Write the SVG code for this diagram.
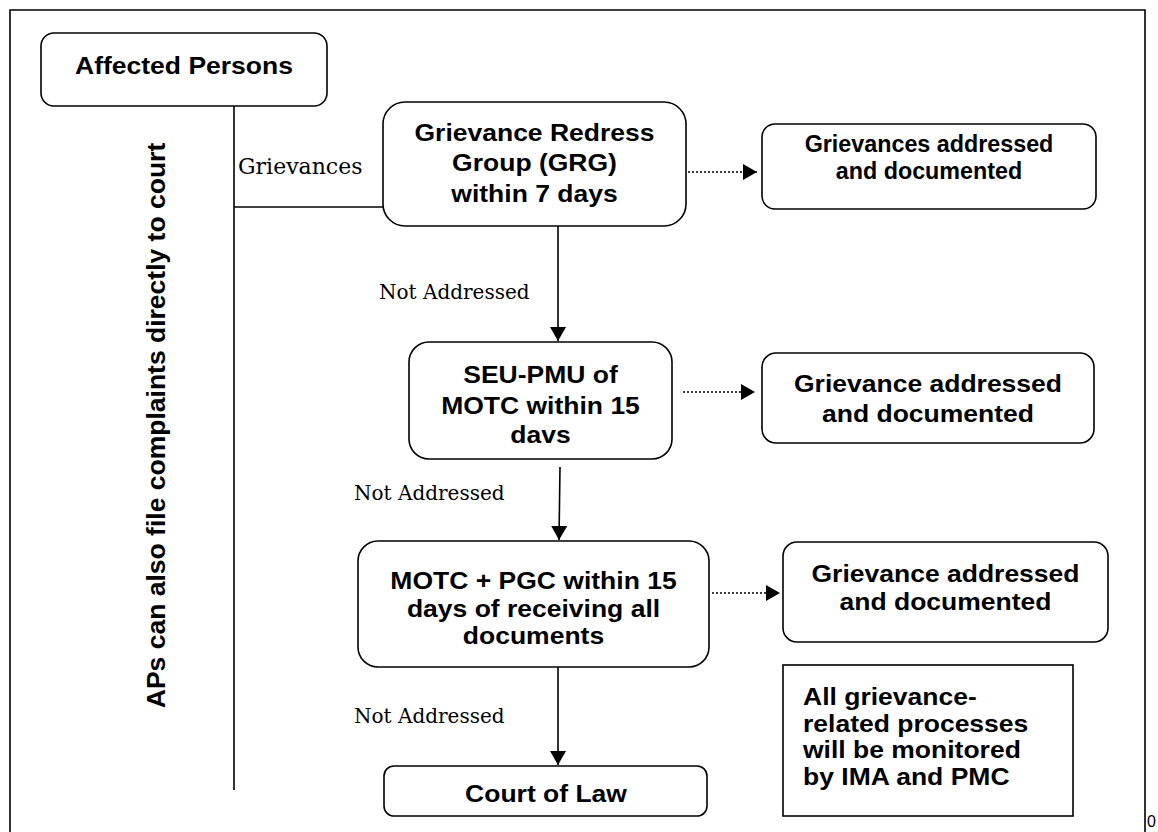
<svg xmlns="http://www.w3.org/2000/svg" width="1158" height="832" viewBox="0 0 1158 832">
<defs>
<style>
.box{fill:#fff;stroke:#000;stroke-width:1.6}
.t{font-family:"Liberation Sans",Arial,sans-serif;font-weight:bold;font-size:23.5px;fill:#000;text-anchor:middle}
.s{text-anchor:start}
.ts{font-size:23.3px}
.tr{font-size:26.5px}
.lbl{font-family:"DejaVu Serif","Liberation Serif",serif;font-size:20px;fill:#000}
.ln{fill:none;stroke:#000;stroke-width:1.6}
.dot{fill:none;stroke:#000;stroke-width:1.6;stroke-dasharray:2 2}
</style>
<marker id="ah" markerUnits="userSpaceOnUse" markerWidth="15" markerHeight="16" refX="14" refY="8" orient="auto" viewBox="0 0 15 16">
<path d="M0,0 L14,8 L0,16 z" fill="#000"/>
</marker>
</defs>
<rect width="1158" height="832" fill="#fff"/>
<path class="ln" d="M10,832 V10 H1145 V832"/>
<text x="1147" y="827" font-family="Liberation Sans,Arial,sans-serif" font-size="16">0</text>

<g id="connectors">
<path class="ln" d="M234,106 V790"/>
<path class="ln" d="M234,207 H383"/>
<path class="ln" d="M558,226 V341" marker-end="url(#ah)"/>
<path class="ln" d="M560,467 L559,540" marker-end="url(#ah)"/>
<path class="ln" d="M558,667 V765" marker-end="url(#ah)"/>
<path class="dot" d="M688,172 H757" marker-end="url(#ah)"/>
<path class="dot" d="M683,392 H755" marker-end="url(#ah)"/>
<path class="dot" d="M712,593 H780" marker-end="url(#ah)"/>
<text class="lbl" x="238" y="174" style="font-size:22px">Grievances</text>
<text class="lbl" x="379" y="299">Not Addressed</text>
<text class="lbl" x="354" y="500">Not Addressed</text>
<text class="lbl" x="354" y="723">Not Addressed</text>
</g>

<g id="side-note">
<text class="t tr" transform="translate(165,425.5) rotate(-90)">APs can also file complaints directly to court</text>
</g>

<g id="affected-persons">
<rect class="box" x="41" y="33" width="286" height="73" rx="13"/>
<text class="t" transform="translate(184,73.5) scale(1.128,1)">Affected Persons</text>
</g>

<g id="grg">
<rect class="box" x="383" y="102" width="303" height="124" rx="22"/>
<text class="t" transform="translate(534.5,141) scale(1.128,1)">Grievance Redress</text>
<text class="t" transform="translate(534.5,171) scale(1.128,1)">Group (GRG)</text>
<text class="t" transform="translate(534.5,202) scale(1.128,1)">within 7 days</text>
</g>

<g id="addressed-1">
<rect class="box" x="762" y="124" width="334" height="85" rx="13"/>
<text class="t ts" x="929" y="152">Grievances addressed</text>
<text class="t ts" x="929" y="179">and documented</text>
</g>

<g id="seu-pmu">
<rect class="box" x="409" y="342" width="263" height="117" rx="20"/>
<text class="t" transform="translate(540.5,383) scale(1.128,1)">SEU-PMU of</text>
<text class="t" transform="translate(540.5,414) scale(1.128,1)">MOTC within 15</text>
<text class="t" transform="translate(540.5,443) scale(1.128,1)">davs</text>
</g>

<g id="addressed-2">
<rect class="box" x="762" y="353" width="332" height="90" rx="14"/>
<text class="t" transform="translate(928,392) scale(1.128,1)">Grievance addressed</text>
<text class="t" transform="translate(928,422) scale(1.128,1)">and documented</text>
</g>

<g id="motc-pgc">
<rect class="box" x="358" y="541" width="351" height="126" rx="20"/>
<text class="t" transform="translate(533.5,589) scale(1.128,1)">MOTC + PGC within 15</text>
<text class="t" transform="translate(533.5,617) scale(1.128,1)">days of receiving all</text>
<text class="t" transform="translate(533.5,644) scale(1.128,1)">documents</text>
</g>

<g id="addressed-3">
<rect class="box" x="783" y="542" width="325" height="100" rx="14"/>
<text class="t" transform="translate(945.5,582) scale(1.128,1)">Grievance addressed</text>
<text class="t" transform="translate(945.5,610) scale(1.128,1)">and documented</text>
</g>

<g id="court">
<rect class="box" x="384" y="766" width="323" height="50" rx="10"/>
<text class="t" transform="translate(546,802) scale(1.128,1)">Court of Law</text>
</g>

<g id="monitoring">
<rect class="box" x="783" y="665" width="290" height="151"/>
<text class="t s" transform="translate(803,705) scale(1.128,1)">All grievance-</text>
<text class="t s" transform="translate(803,732) scale(1.128,1)">related processes</text>
<text class="t s" transform="translate(803,758) scale(1.128,1)">will be monitored</text>
<text class="t s" transform="translate(803,785) scale(1.128,1)">by IMA and PMC</text>
</g>
</svg>
